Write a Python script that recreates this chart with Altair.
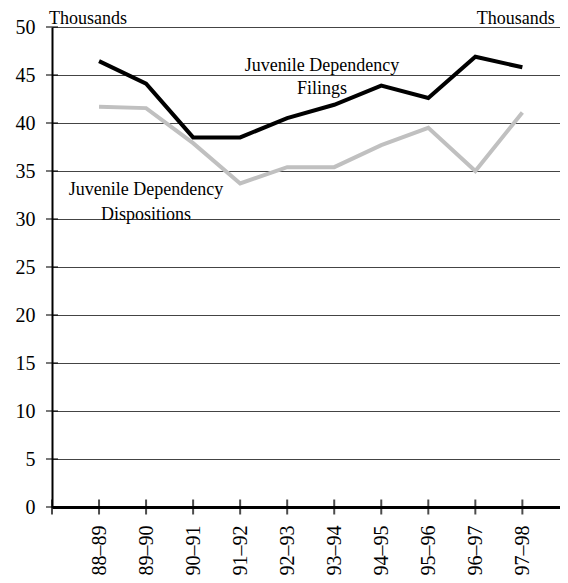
import json
import altair as alt
import pandas as pd

years = ["88–89", "89–90", "90–91", "91–92", "92–93", "93–94", "94–95", "95–96", "96–97", "97–98"]
filings = [46.45, 44.1, 38.5, 38.5, 40.5, 41.9, 43.9, 42.6, 46.9, 45.8]
dispositions = [41.7, 41.55, 37.9, 33.7, 35.4, 35.4, 37.7, 39.5, 35.0, 41.1]
y_ticks = [0, 5, 10, 15, 20, 25, 30, 35, 40, 45, 50]
x_ticks = list(range(0, 11))

label_text = ["Juvenile Dependency", "Filings", "Juvenile Dependency", "Dispositions", "Thousands", "Thousands"]
label_x = [5.74, 5.74, 2.0, 2.0, 0.0, 10.69]
label_y = [45.9, 43.5, 33.0, 30.4, 50.3, 50.3]
label_align = ["center", "center", "center", "center", "left", "right"]

FONT = "'Liberation Serif', 'Times New Roman', 'DejaVu Serif', serif"

rows = []
for i, yr in enumerate(years):
    rows.append({"pos": i + 1, "value": filings[i], "series": "Filings"})
    rows.append({"pos": i + 1, "value": dispositions[i], "series": "Dispositions"})
df = pd.DataFrame(rows)

label_expr = json.dumps([""] + years + [""], ensure_ascii=False) + "[datum.value]"

x_scale = alt.Scale(domain=[0, 10.8], nice=False, zero=False)
y_scale = alt.Scale(domain=[0, 50], nice=False)

x_enc = alt.X("pos:Q", scale=x_scale, axis=alt.Axis(
    values=list(range(1, 11)), labelExpr=label_expr, labelAngle=-90,
    labelFont=FONT, labelFontSize=20, labelColor="black", labelPadding=18,
    ticks=False, grid=False, domainColor="black", domainWidth=3, title=None))
y_enc = alt.Y("value:Q", scale=y_scale, axis=alt.Axis(
    values=y_ticks, labelFont=FONT, labelFontSize=20, labelColor="black",
    labelPadding=17, ticks=False, grid=True, gridColor="#444", gridWidth=1,
    domainColor="black", domainWidth=2, title=None))

base = alt.Chart(df)
gray = base.transform_filter(alt.datum.series == "Dispositions").mark_line(
    color="#c0c0c0", strokeWidth=4).encode(x=x_enc, y=y_enc)
black = base.transform_filter(alt.datum.series == "Filings").mark_line(
    color="black", strokeWidth=4).encode(x="pos:Q", y="value:Q")

xt = alt.Chart(pd.DataFrame({"pos": x_ticks, "value": [0] * len(x_ticks)})).mark_tick(
    orient="vertical", size=15, thickness=2, color="black").encode(x="pos:Q", y="value:Q")
yt = alt.Chart(pd.DataFrame({"pos": [0] * len(y_ticks), "value": y_ticks})).mark_tick(
    orient="horizontal", size=12, thickness=1.5, color="black").encode(x="pos:Q", y="value:Q")

labels_df = pd.DataFrame({"pos": label_x, "value": label_y, "text": label_text, "align": label_align})
texts = []
for al in ["center", "left", "right"]:
    sub = labels_df[labels_df["align"] == al]
    bl = "middle" if al == "center" else "alphabetic"
    dx = -3 if al == "left" else 0
    texts.append(alt.Chart(sub).mark_text(
        font=FONT, fontSize=18, color="black", align=al, baseline=bl, dx=dx).encode(
        x="pos:Q", y="value:Q", text="text:N"))

chart = alt.layer(gray, black, xt, yt, *texts).properties(
    width=508, height=480,
    autosize=alt.AutoSizeParams(type="none"),
    padding={"left": 44, "top": 19, "right": 0, "bottom": 68},
).configure_view(stroke=None)

chart.save("out.html", embed_options={"renderer": "svg", "actions": False})
